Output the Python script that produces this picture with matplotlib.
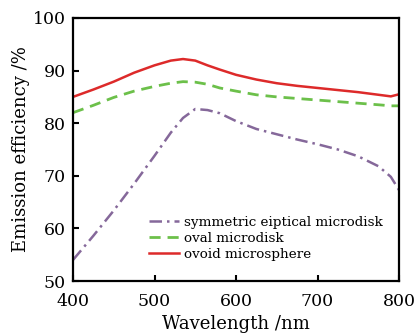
import matplotlib
matplotlib.use('Agg')
import matplotlib.pyplot as plt

plt.rcParams['font.family'] = ['DejaVu Serif']

wavelength = [400, 425, 450, 475, 500, 520, 535, 550, 565, 580, 600, 625, 650, 675, 700, 725, 750, 775, 790, 800]
sym_elliptical = [54.0, 58.6, 63.4, 68.5, 73.8, 78.2, 81.0, 82.7, 82.5, 81.9, 80.4, 78.9, 77.9, 76.9, 76.0, 75.0, 73.7, 71.8, 69.8, 67.3]
oval_disk = [82.0, 83.4, 84.9, 86.1, 87.0, 87.6, 87.9, 87.8, 87.4, 86.7, 86.1, 85.4, 85.0, 84.7, 84.4, 84.1, 83.8, 83.5, 83.3, 83.3]
ovoid_sphere = [85.0, 86.4, 87.9, 89.6, 91.0, 91.9, 92.2, 91.9, 91.0, 90.2, 89.2, 88.3, 87.6, 87.1, 86.7, 86.3, 85.9, 85.4, 85.1, 85.5]

labels = ['symmetric eiptical microdisk', 'oval microdisk', 'ovoid microsphere']

fig, ax = plt.subplots(figsize=(4.19, 3.35), dpi=100)
fig.subplots_adjust(left=73/419, right=399/419, top=1-18/335, bottom=1-281/335)

ax.plot(wavelength, sym_elliptical, color='#85689a', lw=1.8, dashes=(5, 2, 1, 2), label=labels[0])
ax.plot(wavelength, oval_disk, color='#6cc04a', lw=2.0, dashes=(4, 2.5), label=labels[1])
ax.plot(wavelength, ovoid_sphere, color='#dd2a2a', lw=1.8, label=labels[2])

ax.set_xlim(400, 800)
ax.set_ylim(50, 100)
ax.set_xticks([400, 500, 600, 700, 800])
ax.set_yticks([50, 60, 70, 80, 90, 100])
ax.tick_params(direction='in', length=4, width=1.5, labelsize=12.5, top=False, right=False)
ax.tick_params(axis='x', pad=9)
ax.tick_params(axis='y', pad=5)
for s in ax.spines.values():
    s.set_linewidth(1.6)

ax.set_xlabel('Wavelength /nm', fontsize=13, labelpad=3)
ax.set_ylabel('Emission efficiency /%', fontsize=13, labelpad=2)

ax.legend(loc='lower left', bbox_to_anchor=(0.205, 0.042), frameon=False, fontsize=9.7,
          handlelength=2.2, handletextpad=0.35, labelspacing=0.2, borderpad=0.2)

fig.savefig('out.png', dpi=100)
